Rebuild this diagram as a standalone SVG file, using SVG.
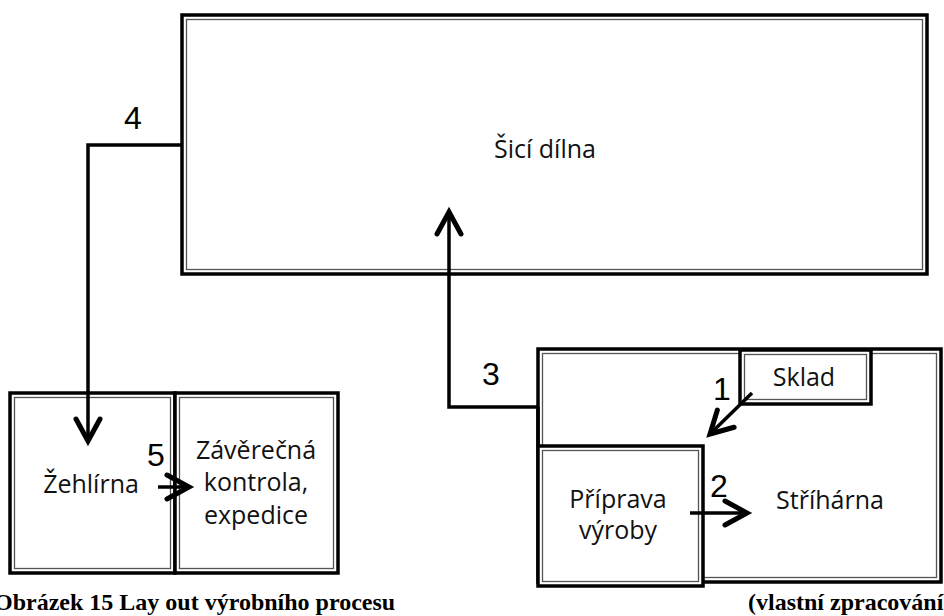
<svg xmlns="http://www.w3.org/2000/svg" width="944" height="616" viewBox="0 0 944 616">
<style>
.outer{fill:#fff;stroke:#000;stroke-width:3.5}
.inner{fill:none;stroke:#555;stroke-width:1.3}
.lbl{font-family:"Open Sans","Liberation Sans",sans-serif;font-size:25px;fill:#111;text-anchor:middle}
.num{font-family:"Liberation Sans",Arial,sans-serif;font-size:32px;fill:#000;text-anchor:middle}
.cap{font-family:"Liberation Serif","Times New Roman",serif;font-size:24px;font-weight:bold;fill:#000}
.conn{fill:none;stroke:#000;stroke-width:3.5;stroke-linejoin:miter}
</style>
<defs>
<marker id="ah" markerUnits="userSpaceOnUse" markerWidth="40" markerHeight="40" viewBox="-30 -20 40 40" refX="0" refY="0" orient="auto">
<path d="M-22,-12 L0,0 L-22,12" fill="none" stroke="#000" stroke-width="5" stroke-linecap="round" stroke-linejoin="miter"/>
</marker>
</defs>
<rect width="944" height="616" fill="#fff"/>
<g id="sici-dilna">
<rect class="outer" x="182" y="15" width="745" height="259"/>
<rect class="inner" x="186.5" y="19.5" width="736" height="250"/>
<text class="lbl" x="545" y="158">Šicí dílna</text>
</g>
<g id="zehlirna">
<rect class="outer" x="10" y="393" width="165" height="180"/>
<rect class="inner" x="14.5" y="397.5" width="156" height="171"/>
<text class="lbl" x="91" y="493">Žehlírna</text>
</g>
<g id="zaverecna-kontrola">
<rect class="outer" x="175" y="393" width="163" height="180"/>
<rect class="inner" x="179.5" y="397.5" width="154" height="171"/>
<text class="lbl" x="256" y="459">Závěrečná</text>
<text class="lbl" x="256" y="491">kontrola,</text>
<text class="lbl" x="256" y="524">expedice</text>
</g>
<g id="strihárna">
<rect class="outer" x="538" y="349" width="403" height="233"/>
<rect class="inner" x="542.5" y="353.5" width="394" height="224"/>
<text class="lbl" x="830" y="509">Stříhárna</text>
</g>
<g id="sklad">
<rect class="outer" x="740" y="350" width="131" height="54"/>
<rect class="inner" x="744.5" y="354.5" width="122" height="45"/>
<text class="lbl" x="804" y="386">Sklad</text>
</g>
<g id="priprava-vyroby">
<rect class="outer" x="538" y="446" width="165" height="140"/>
<rect class="inner" x="542.5" y="450.5" width="156" height="131"/>
<text class="lbl" x="618" y="508">Příprava</text>
<text class="lbl" x="618" y="539">výroby</text>
</g>
<g id="connectors">
<polyline class="conn" points="182,145 88,145 88,441" marker-end="url(#ah)"/>
<polyline class="conn" points="538,407 449,407 449,212" marker-end="url(#ah)"/>
<line class="conn" x1="538" y1="407" x2="538" y2="446" stroke-width="6"/>
<line class="conn" x1="752" y1="393" x2="710" y2="434" marker-end="url(#ah)"/>
<line class="conn" x1="690" y1="513" x2="747" y2="513" marker-end="url(#ah)"/>
<line class="conn" x1="158" y1="487" x2="189" y2="487" marker-end="url(#ah)"/>
</g>
<g id="labels">
<text class="num" x="133" y="129">4</text>
<text class="num" x="491" y="385">3</text>
<text class="num" x="722" y="400">1</text>
<text class="num" x="719" y="497">2</text>
<text class="num" x="156" y="466">5</text>
</g>
<text class="cap" x="-6" y="610">Obrázek 15 Lay out výrobního procesu</text>
<text class="cap" x="748" y="610">(vlastní zpracování)</text>
</svg>
